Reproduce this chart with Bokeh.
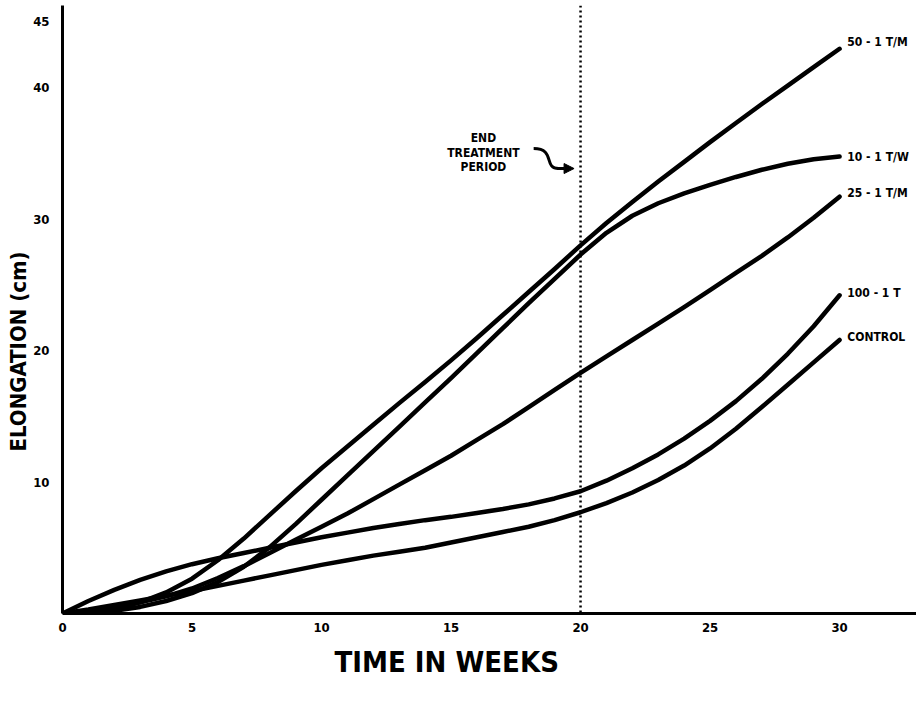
from bokeh.plotting import figure
from bokeh.models import Range1d, FixedTicker, Span, Label, Arrow, NormalHead, Title
from bokeh.embed import file_html
from bokeh.resources import INLINE

FONT = "DejaVu Sans Condensed, sans-serif"

# ---- data ----
WEEKS = list(range(31))
S_50_1TM = [0, 0.1, 0.35, 0.85, 1.6, 2.65, 4.05, 5.7, 7.5, 9.3, 11.05, 12.7, 14.35, 16.0, 17.6, 19.25,
            20.95, 22.7, 24.45, 26.2, 28.0, 29.7, 31.3, 32.85, 34.35, 35.85, 37.3, 38.75, 40.15, 41.55, 42.95]
S_10_1TW = [0, 0.05, 0.2, 0.5, 0.95, 1.55, 2.4, 3.55, 5.05, 6.8, 8.65, 10.5, 12.35, 14.2, 16.05, 17.9,
            19.8, 21.7, 23.6, 25.45, 27.3, 28.95, 30.25, 31.2, 31.95, 32.6, 33.2, 33.75, 34.2, 34.55, 34.75]
S_25_1TM = [0, 0.15, 0.45, 0.85, 1.3, 1.9, 2.7, 3.6, 4.6, 5.6, 6.6, 7.6, 8.7, 9.8, 10.9, 12.0,
            13.2, 14.4, 15.7, 17.0, 18.3, 19.55, 20.8, 22.05, 23.3, 24.6, 25.9, 27.2, 28.6, 30.1, 31.7]
S_100_1T = [0, 0.95, 1.8, 2.55, 3.2, 3.75, 4.2, 4.6, 5.0, 5.4, 5.8, 6.15, 6.5, 6.8, 7.1, 7.35,
            7.65, 7.95, 8.3, 8.75, 9.3, 10.1, 11.05, 12.1, 13.3, 14.65, 16.15, 17.85, 19.75, 21.85, 24.2]
S_CONTROL = [0, 0.3, 0.65, 1.0, 1.35, 1.7, 2.1, 2.5, 2.9, 3.3, 3.7, 4.05, 4.4, 4.7, 5.0, 5.4,
             5.8, 6.2, 6.6, 7.1, 7.7, 8.4, 9.2, 10.15, 11.25, 12.55, 14.05, 15.7, 17.4, 19.1, 20.8]

SERIES = [S_50_1TM, S_10_1TW, S_25_1TM, S_100_1T, S_CONTROL]
SERIES_LABELS = ["50 - 1 T/M", "10 - 1 T/W", "25 - 1 T/M", "100 - 1 T", "CONTROL"]
LABEL_DY = [0.5, 0.0, 0.3, 0.2, 0.2]

X_TICKS = [0, 5, 10, 15, 20, 25, 30]
Y_TICKS = [10, 20, 30, 40, 45]
END_TREATMENT_WEEK = 20

p = figure(width=916, height=693, output_backend="svg", toolbar_location=None,
           x_range=Range1d(0, 32.97), y_range=Range1d(0, 46.24),
           min_border_left=62, min_border_right=0, min_border_top=5, min_border_bottom=80)
p.outline_line_color = None
p.xgrid.visible = False
p.ygrid.visible = False
p.background_fill_color = "white"
p.border_fill_color = "white"

for ax in (p.xaxis[0], p.yaxis[0]):
    ax.axis_line_width = 3
    ax.axis_line_color = "black"
    ax.major_tick_in = 0
    ax.major_tick_out = 0
    ax.minor_tick_in = 0
    ax.minor_tick_out = 0
    ax.major_label_text_font = FONT
    ax.major_label_text_font_style = "bold"
    ax.major_label_text_font_size = "13px"
    ax.major_label_text_color = "black"

p.xaxis.ticker = FixedTicker(ticks=X_TICKS)
p.yaxis.ticker = FixedTicker(ticks=Y_TICKS)
p.xaxis.major_label_standoff = 9
p.yaxis.major_label_standoff = 13

for ys in SERIES:
    p.line(WEEKS, ys, line_width=4.5, line_color="black", line_cap="round", line_join="round")

for ys, lab, dy in zip(SERIES, SERIES_LABELS, LABEL_DY):
    p.add_layout(Label(x=WEEKS[-1] + 0.3, y=ys[-1] + dy, text=lab, text_font=FONT,
                       text_font_style="bold", text_font_size="12px", text_color="black",
                       text_align="left", text_baseline="middle"))

p.add_layout(Span(location=END_TREATMENT_WEEK, dimension="height", line_color="black",
                  line_width=2.5, line_dash="2 3"))

# annotation
for txt, yy in [("END", 36.2), ("TREATMENT", 35.06), ("PERIOD", 33.92)]:
    p.add_layout(Label(x=16.25, y=yy, text=txt, text_font=FONT, text_font_style="bold",
                       text_font_size="12px", text_color="black", text_align="center",
                       text_baseline="middle"))

p.bezier(x0=[18.19], y0=[35.36], x1=[19.15], y1=[33.84], cx0=[19.05], cy0=[35.36],
         cx1=[18.55], cy1=[33.84], line_width=3, line_color="black")
p.add_layout(Arrow(end=NormalHead(size=10, fill_color="black", line_color="black"),
                   x_start=19.1, y_start=33.84, x_end=19.75, y_end=33.84,
                   line_width=3, line_color="black"))

# axis titles
ytitle = Title(text="ELONGATION (cm)", align="left", offset=162, standoff=0,
               text_font=FONT, text_font_style="bold", text_font_size="22px", text_color="black")
p.add_layout(ytitle, "left")
xtitle = Title(text="TIME IN WEEKS", align="left", offset=272, standoff=17,
               text_font=FONT, text_font_style="bold", text_font_size="29px", text_color="black")
p.add_layout(xtitle, "below")

open("out.html", "w").write(file_html(p, INLINE))
